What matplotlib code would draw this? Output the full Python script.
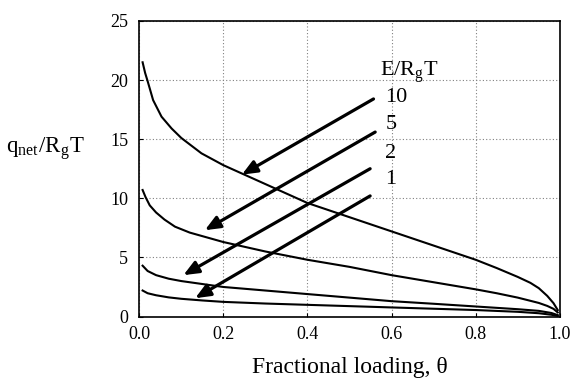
import matplotlib
matplotlib.use("Agg")
import matplotlib.pyplot as plt
import numpy as np

plt.rcParams['font.family'] = ['Liberation Serif', 'DejaVu Serif']
plt.rcParams['mathtext.fontset'] = 'stix'

# fractional loading for each curve
theta_10 = [0.008, 0.014, 0.02, 0.033, 0.053, 0.077, 0.1, 0.148, 0.2, 0.25, 0.3, 0.35,
            0.4, 0.45, 0.5, 0.55, 0.6, 0.65, 0.7, 0.75, 0.8, 0.85, 0.9, 0.93, 0.95,
            0.97, 0.985, 0.995]
q_10 = [21.5, 20.6, 19.9, 18.3, 16.9, 15.9, 15.1, 13.8, 12.8, 12.0, 11.2, 10.4,
        9.6, 9.0, 8.4, 7.8, 7.2, 6.6, 6.0, 5.4, 4.8, 4.1, 3.35, 2.85, 2.4,
        1.75, 1.13, 0.55]

theta_5 = [0.008, 0.015, 0.025, 0.04, 0.06, 0.085, 0.12, 0.15, 0.2, 0.25, 0.3, 0.35,
           0.4, 0.45, 0.5, 0.55, 0.6, 0.65, 0.7, 0.75, 0.8, 0.85, 0.9, 0.95,
           0.97, 0.985, 0.995]
q_5 = [10.7, 10.1, 9.4, 8.8, 8.2, 7.6, 7.1, 6.8, 6.3, 5.9, 5.5, 5.15,
       4.8, 4.5, 4.2, 3.85, 3.5, 3.2, 2.9, 2.6, 2.3, 1.97, 1.6, 1.15,
       0.9, 0.65, 0.35]

theta_2 = [0.008, 0.02, 0.04, 0.07, 0.1, 0.15, 0.2, 0.3, 0.4, 0.5, 0.6, 0.7,
           0.8, 0.9, 0.95, 0.98, 0.995]
q_2 = [4.3, 3.85, 3.5, 3.2, 3.0, 2.75, 2.5, 2.2, 1.9, 1.6, 1.3, 1.08,
       0.85, 0.62, 0.48, 0.3, 0.12]

theta_1 = [0.008, 0.02, 0.04, 0.07, 0.1, 0.15, 0.2, 0.3, 0.4, 0.5, 0.6, 0.7,
           0.8, 0.9, 0.95, 0.98, 0.995]
q_1 = [2.2, 1.97, 1.8, 1.62, 1.5, 1.36, 1.24, 1.1, 0.99, 0.88, 0.77, 0.66,
       0.55, 0.4, 0.28, 0.15, 0.05]

energy_labels = ['10', '5', '2', '1']
# arrow tail (near label) and head (on curve)
arrow_tails = [(0.557, 18.4), (0.561, 15.6), (0.549, 12.5), (0.549, 10.2)]
arrow_heads = [(0.244, 12.0), (0.156, 7.3), (0.105, 3.5), (0.133, 1.55)]
label_y = [18.5, 16.2, 13.8, 11.6]

fig = plt.figure(figsize=(5.73, 3.80), dpi=100)
ax = fig.add_axes([0.243, 0.167, 0.734, 0.778])

for th, q in [(theta_10, q_10), (theta_5, q_5), (theta_2, q_2), (theta_1, q_1)]:
    ax.plot(th, q, '-', color='black', lw=1.5, zorder=3)

for (tx, ty), (hx, hy) in zip(arrow_tails, arrow_heads):
    ax.annotate('', xy=(hx, hy), xytext=(tx, ty),
                arrowprops=dict(arrowstyle='-|>,head_length=0.9,head_width=0.38',
                                color='black', lw=2.3, shrinkA=0, shrinkB=0),
                zorder=4)

ax.text(0.572, 20.7, r'E/R$_{\mathregular{g}}$T', fontsize=16, ha='left', va='center')
for lab, ly in zip(energy_labels, label_y):
    ax.text(0.585, ly, lab, fontsize=16, ha='left', va='center')

ax.set_xlim(0, 1.0)
ax.set_ylim(0, 25)
ax.set_xticks(np.arange(0, 1.01, 0.2))
ax.set_xticklabels(['0.0', '0.2', '0.4', '0.6', '0.8', '1.0'])
ax.set_yticks(np.arange(0, 26, 5))
ax.tick_params(direction='in', length=3, labelsize=13)
ax.tick_params(axis='x', pad=7)
ax.tick_params(axis='y', pad=8)
ax.grid(True, linestyle=(0, (1, 2)), color='gray', lw=0.8)
for sp in ax.spines.values():
    sp.set_linewidth(1.2)

ax.set_xlabel(r'Fractional loading, θ', fontsize=17, labelpad=10)
fig.text(0.079, 0.608, r'q$_{\mathregular{net}}$/R$_{\mathregular{g}}$T', fontsize=16.5,
         ha='center', va='center')

fig.savefig('out.png', dpi=100)
